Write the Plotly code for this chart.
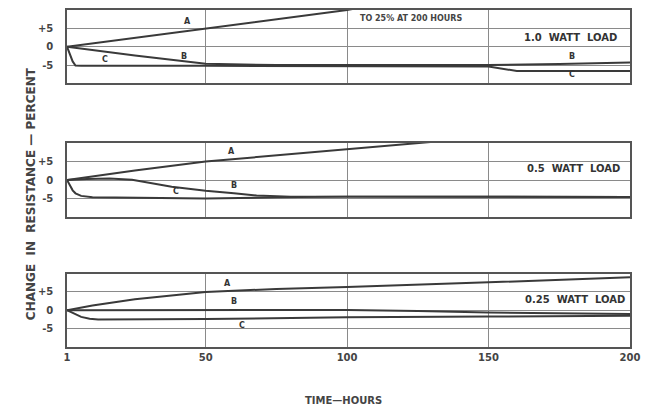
import plotly.graph_objects as go
from plotly.subplots import make_subplots

# time axis ticks
tick_hours = [1, 50, 100, 150, 200]
tick_text = ["<b>1</b>", "<b>50</b>", "<b>100</b>", "<b>150</b>", "<b>200</b>"]

# 1.0 watt load
hours_a1 = [1, 10, 25, 50, 75, 100, 150, 200]
pct_a1 = [0, 0.9, 2.4, 5.0, 7.5, 10.0, 17.0, 25.0]
hours_b1 = [1, 10, 25, 50, 75, 100, 150, 175, 200]
pct_b1 = [0, -0.9, -2.4, -4.6, -5.0, -5.0, -5.0, -4.7, -4.3]
hours_c1 = [1, 2, 3, 4, 6, 50, 100, 150, 160, 200]
pct_c1 = [0, -2.0, -4.0, -5.1, -5.2, -5.2, -5.2, -5.4, -6.6, -6.6]

# 0.5 watt load
hours_a2 = [1, 25, 50, 75, 100, 125, 150, 200]
pct_a2 = [0, 2.6, 5.0, 6.7, 8.2, 10.0, 11.8, 15.0]
hours_b2 = [1, 8, 16, 24, 38, 50, 60, 68, 80, 100, 150, 200]
pct_b2 = [0, 0.3, 0.4, 0.1, -1.8, -2.9, -3.6, -4.2, -4.5, -4.5, -4.4, -4.6]
hours_c2 = [1, 2, 3, 4, 6, 10, 50, 75, 100, 150, 200]
pct_c2 = [0, -1.5, -2.8, -3.6, -4.3, -4.7, -5.0, -4.7, -4.5, -4.5, -4.6]

# 0.25 watt load
hours_a3 = [1, 10, 25, 50, 75, 100, 150, 200]
pct_a3 = [0, 1.3, 3.0, 5.0, 5.8, 6.3, 7.6, 9.0]
hours_b3 = [1, 50, 100, 125, 150, 200]
pct_b3 = [0, 0.1, 0.1, -0.2, -0.6, -1.0]
hours_c3 = [1, 3, 6, 9, 12, 50, 100, 150, 200]
pct_c3 = [0, -0.8, -1.8, -2.3, -2.5, -2.4, -1.9, -1.7, -1.5]

panels = [
    (hours_a1, pct_a1, hours_b1, pct_b1, hours_c1, pct_c1),
    (hours_a2, pct_a2, hours_b2, pct_b2, hours_c2, pct_c2),
    (hours_a3, pct_a3, hours_b3, pct_b3, hours_c3, pct_c3),
]
load_labels = ["1.0  WATT  LOAD", "0.5  WATT  LOAD", "0.25  WATT  LOAD"]
load_label_pos = [(196, 2.4), (197.2, 3.2), (199, 3.0)]

# curve letters (panel, letter, x, y)
curve_labels = [
    (1, "A", 43.5, 7.0), (1, "B", 42.5, -2.7), (1, "C", 14.4, -3.5),
    (1, "B", 179.6, -2.7), (1, "C", 179.6, -7.6),
    (2, "A", 59, 7.8), (2, "B", 60, -1.6), (2, "C", 39.7, -3.0),
    (3, "A", 57.6, 7.3), (3, "B", 60, 2.4), (3, "C", 62.9, -4.1),
]

ink = "#3a3a3a"
grid = "#8a8a8a"
font = "DejaVu Sans"

fig = make_subplots(rows=3, cols=1, vertical_spacing=0.17)

for i, (xa, ya, xb, yb, xc, yc) in enumerate(panels):
    row = i + 1
    for xs, ys in [(xa, ya), (xb, yb), (xc, yc)]:
        fig.add_trace(go.Scatter(x=xs, y=ys, mode="lines",
                                 line=dict(color=ink, width=2),
                                 showlegend=False, hoverinfo="skip"),
                      row=row, col=1)

fig.update_xaxes(range=[1, 200], tickvals=tick_hours, ticktext=tick_text,
                 showgrid=True, gridcolor=grid, gridwidth=1,
                 showline=True, linecolor="#555", linewidth=1.5, mirror=True,
                 zeroline=False, ticks="",
                 tickfont=dict(family=font, size=10, color="#444"))
fig.update_xaxes(showticklabels=False, row=1, col=1)
fig.update_xaxes(showticklabels=False, row=2, col=1)

fig.update_yaxes(range=[-10, 10], tickvals=[-5, 0, 5],
                 ticktext=["<b>-5</b>", "<b>0</b>", "<b>+5</b>"],
                 showgrid=True, gridcolor=grid, gridwidth=1,
                 showline=True, linecolor="#555", linewidth=1.5, mirror=True,
                 zeroline=False, ticks="", ticklabelstandoff=10,
                 tickfont=dict(family=font, size=10, color="#444"))

# panel domains to match the page
fig.update_layout(
    yaxis=dict(domain=[0.782, 1.0]),
    yaxis2=dict(domain=[0.386, 0.605]),
    yaxis3=dict(domain=[0.0, 0.218]),
)

for i, txt in enumerate(load_labels):
    x, y = load_label_pos[i]
    ax = "" if i == 0 else str(i + 1)
    fig.add_annotation(x=x, y=y, xref="x" + ax, yref="y" + ax, text="<b>" + txt + "</b>",
                       showarrow=False, xanchor="right",
                       font=dict(family=font, size=10, color="#333"))

for p, letter, x, y in curve_labels:
    ax = "" if p == 1 else str(p)
    fig.add_annotation(x=x, y=y, xref="x" + ax, yref="y" + ax, text="<b>" + letter + "</b>",
                       showarrow=False,
                       font=dict(family=font, size=8, color="#333"))

fig.add_annotation(x=104, y=7.6, xref="x", yref="y", text="<b>TO 25% AT 200 HOURS</b>",
                   showarrow=False, xanchor="left",
                   font=dict(family=font, size=8, color="#444"))

# axis titles, placed in paper coords from pixel positions
fig.add_annotation(x=(22 - 67) / 566, y=(347 - 193) / 339, xref="paper", yref="paper",
                   text="<b>CHANGE  IN  RESISTANCE — PERCENT</b>",
                   showarrow=False, textangle=-90,
                   font=dict(family=font, size=12, color="#444"))
fig.add_annotation(x=(345 - 67) / 566, y=(347 - 408) / 339, xref="paper", yref="paper",
                   text="<b>TIME—HOURS</b>", showarrow=False,
                   font=dict(family=font, size=10, color="#444"))

fig.update_layout(
    width=648, height=415,
    margin=dict(l=67, r=15, t=8, b=68),
    paper_bgcolor="white", plot_bgcolor="white",
    font=dict(family=font, color="#444"),
)

fig.write_html("out.html", config={"displayModeBar": False},
               post_script="document.body.style.margin='0';")
